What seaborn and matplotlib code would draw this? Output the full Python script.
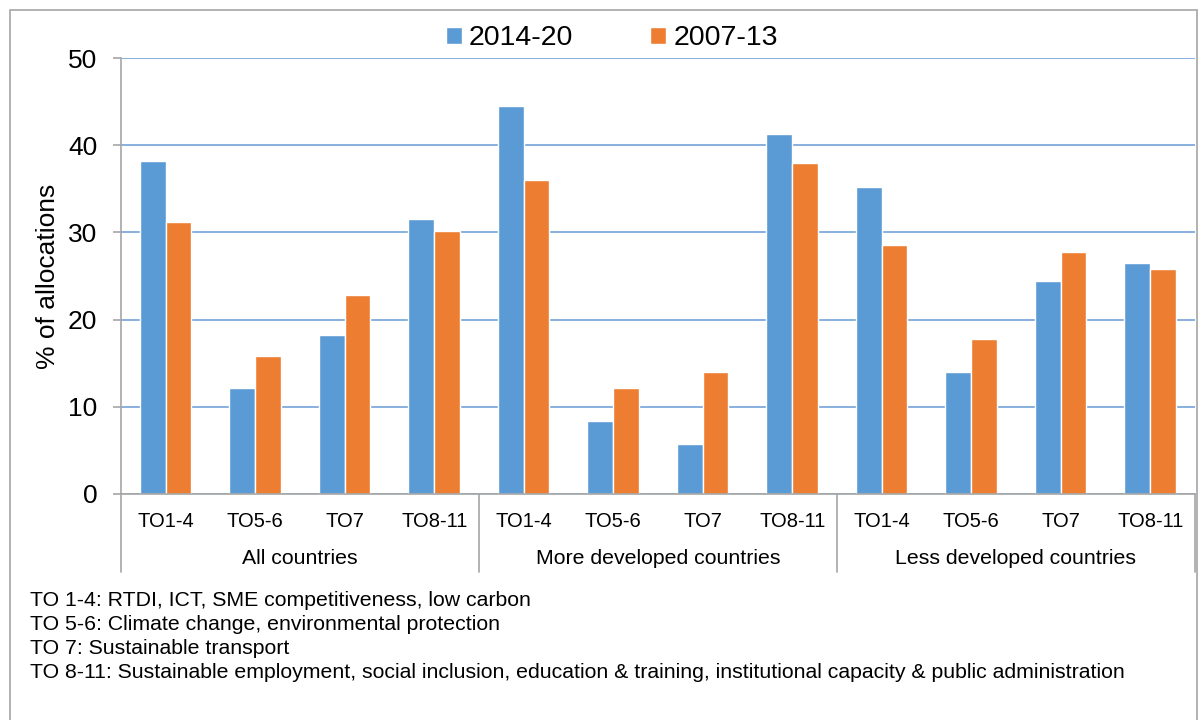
import matplotlib
matplotlib.use('Agg')

import numpy as np
import pandas as pd
import seaborn as sns
import matplotlib.pyplot as plt
from matplotlib.patches import Rectangle
import matplotlib.transforms as mtransforms

# ---------- data ----------
groups = ['All countries', 'More developed countries', 'Less developed countries']
subcats = ['TO1-4', 'TO5-6', 'TO7', 'TO8-11']
periods = ['2014-20', '2007-13']

vals_2014 = [38.2, 12.1, 18.2, 31.5,
             44.5, 8.4, 5.7, 41.3,
             35.2, 14.0, 24.4, 26.5]
vals_2007 = [31.2, 15.8, 22.8, 30.2,
             36.0, 12.1, 14.0, 38.0,
             28.6, 17.8, 27.8, 25.8]

footnotes = [
    'TO 1-4: RTDI, ICT, SME competitiveness, low carbon',
    'TO 5-6: Climate change, environmental protection',
    'TO 7: Sustainable transport',
    'TO 8-11: Sustainable employment, social inclusion, education & training, institutional capacity & public administration',
]

colors = ['#5B9BD5', '#ED7D31']

# ---------- table for seaborn ----------
keys = [f'{g}|{s}' for g in groups for s in subcats]
df = pd.DataFrame({
    'cat': keys * 2,
    'period': [periods[0]] * len(keys) + [periods[1]] * len(keys),
    'value': vals_2014 + vals_2007,
})

sns.set_style('white')
plt.rcParams['font.family'] = ['Liberation Sans', 'DejaVu Sans']
for k in ['text.color', 'axes.labelcolor', 'xtick.color', 'ytick.color']:
    plt.rcParams[k] = 'black'

fig = plt.figure(figsize=(12, 7.2), dpi=100)
ax = fig.add_axes([0.1008, 0.3139, 0.8950, 0.6055])

sns.barplot(data=df, x='cat', y='value', hue='period', order=keys,
            hue_order=periods, palette=colors, width=0.575,
            saturation=1, ax=ax, legend=True)

ax.set_ylim(0, 50)
ax.set_xlim(-0.5, len(keys) - 0.5)
ax.set_yticks(np.arange(0, 51, 10))
ax.yaxis.grid(True, color='#7FA9DC', linewidth=1.3)
ax.set_axisbelow(True)
for sp in ['top', 'right']:
    ax.spines[sp].set_visible(False)
ax.spines['left'].set_color('#A6A6A6')
ax.spines['bottom'].set_color('#A6A6A6')
ax.spines['left'].set_linewidth(1.2)
ax.spines['bottom'].set_linewidth(1.2)

ax.tick_params(axis='y', length=6, color='#A6A6A6', width=1.2,
               labelsize=19, pad=11, left=True)
ax.set_xticks(range(len(keys)))
ax.set_xticklabels(subcats * len(groups))
ax.tick_params(axis='x', length=0, labelsize=14.5, pad=13)

ax.set_xlabel('')
ax.set_ylabel('% of allocations', fontsize=19, labelpad=6)

# group labels and separators
trans = mtransforms.blended_transform_factory(ax.transData, ax.transAxes)
n = len(subcats)
for i, g in enumerate(groups):
    ax.text(i * n + (n - 1) / 2, -0.147, g, transform=trans,
            ha='center', va='center', fontsize=15.3)
for b in range(len(groups) + 1):
    xb = b * n - 0.5
    ax.plot([xb, xb], [0, -0.18], transform=trans, color='#A6A6A6',
            linewidth=1.2, clip_on=False)

# legend at top
handles, labels = ax.get_legend_handles_labels()
ax.legend_.remove()
fig.legend(handles, labels, loc='center', bbox_to_anchor=(0.51, 0.947),
           ncol=2, frameon=False, fontsize=20.5, handlelength=0.55,
           handleheight=0.55, handletextpad=0.25, columnspacing=2.7)

# footnotes
for k, line in enumerate(footnotes):
    fig.text(0.025, 1 - (601 + k * 23.8) / 720, line, fontsize=15.3,
             ha='left', va='center')

# outer frame
fig.patches.append(Rectangle((10 / 1200, -0.01), 1187 / 1200, 1 - 10 / 720 + 0.01,
                             transform=fig.transFigure, fill=False,
                             edgecolor='#A6A6A6', linewidth=1.2))

fig.savefig('out.png', dpi=100)
